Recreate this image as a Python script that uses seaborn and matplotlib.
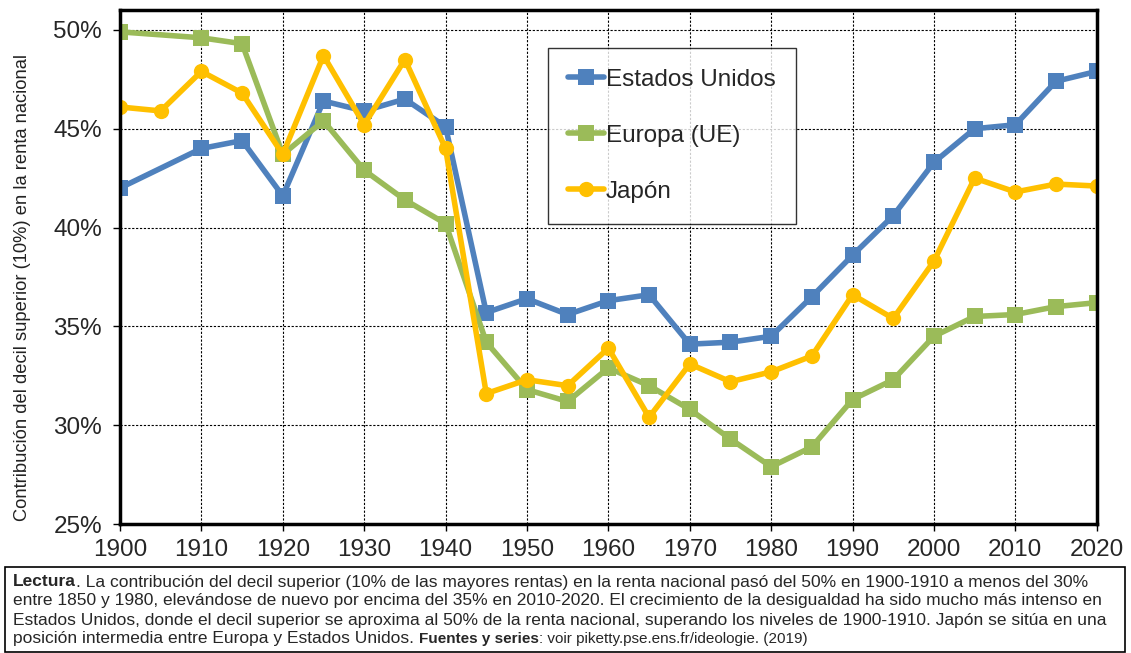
import pandas as pd
import seaborn as sns
import matplotlib.pyplot as plt

# valores (% de la renta nacional del decil superior)
years_us = [1900, 1910, 1915, 1920, 1925, 1930, 1935, 1940, 1945, 1950, 1955, 1960, 1965,
            1970, 1975, 1980, 1985, 1990, 1995, 2000, 2005, 2010, 2015, 2020]
us = [42.0, 44.0, 44.4, 41.6, 46.4, 45.9, 46.5, 45.1, 35.7, 36.4, 35.6, 36.3, 36.6,
      34.1, 34.2, 34.5, 36.5, 38.6, 40.6, 43.3, 45.0, 45.2, 47.4, 47.9]

years_eu = years_us
eu = [49.9, 49.6, 49.3, 43.7, 45.4, 42.9, 41.4, 40.2, 34.2, 31.8, 31.2, 32.9, 32.0,
      30.8, 29.3, 27.9, 28.9, 31.3, 32.3, 34.5, 35.5, 35.6, 36.0, 36.2]

years_jp = [1900, 1905, 1910, 1915, 1920, 1925, 1930, 1935, 1940, 1945, 1950, 1955, 1960,
            1965, 1970, 1975, 1980, 1985, 1990, 1995, 2000, 2005, 2010, 2015, 2020]
jp = [46.1, 45.9, 47.9, 46.8, 43.7, 48.7, 45.2, 48.5, 44.0, 31.6, 32.3, 32.0, 33.9,
      30.4, 33.1, 32.2, 32.7, 33.5, 36.6, 35.4, 38.3, 42.5, 41.8, 42.2, 42.1]

series = ["Estados Unidos", "Europa (UE)", "Japón"]
yticks = [25, 30, 35, 40, 45, 50]
xticks = list(range(1900, 2021, 10))

df = pd.concat([
    pd.DataFrame({"year": years_us, "value": us, "pais": series[0]}),
    pd.DataFrame({"year": years_eu, "value": eu, "pais": series[1]}),
    pd.DataFrame({"year": years_jp, "value": jp, "pais": series[2]}),
])

sns.set_style("white")
plt.rcParams["font.family"] = ["Liberation Sans", "DejaVu Sans"]

fig = plt.figure(figsize=(11.31, 6.53), dpi=100)
ax = fig.add_axes([0.1061, 0.1975, 0.8636, 0.787])

palette = {series[0]: "#4F81BD", series[1]: "#9BBB59", series[2]: "#FFC000"}
markers = {series[0]: "s", series[1]: "s", series[2]: "o"}
sns.lineplot(data=df, x="year", y="value", hue="pais", style="pais",
             hue_order=series, style_order=series, palette=palette,
             markers=markers, dashes=False, linewidth=4, markersize=11,
             markeredgewidth=0, ax=ax)

ax.set_xlim(1900, 2020)
ax.set_ylim(25, 51.0)
ax.set_xticks(xticks)
ax.set_yticks(yticks)
ax.set_yticklabels([f"{v}%" for v in yticks])
ax.tick_params(axis="both", labelsize=17.5, direction="out", length=5,
               width=1, color="black", bottom=True, left=True)
ax.tick_params(axis="y", pad=8)
ax.tick_params(axis="x", pad=6)
ax.grid(True, color="black", linestyle=(0, (2, 1.5)), linewidth=0.8)
ax.set_axisbelow(True)
for sp in ax.spines.values():
    sp.set_color("black")
    sp.set_linewidth(2.5)

ax.set_xlabel("")
ax.set_ylabel("Contribución del decil superior (10%) en la renta nacional",
              fontsize=13.2, color="#222222")
ax.yaxis.set_label_coords(-0.091, 0.46)

handles, labels = ax.get_legend_handles_labels()
leg = ax.legend(handles, labels, loc="upper left", bbox_to_anchor=(0.438, 0.926),
                fontsize=17.5, frameon=True, fancybox=False, edgecolor="black",
                labelspacing=1.4, handlelength=1.45, handletextpad=0.08,
                borderpad=0.85, borderaxespad=0)
leg.get_frame().set_linewidth(1.0)

# caja de texto inferior
box = plt.Rectangle((5 / 1131, 1 - 652 / 653), 1120 / 1131, 85 / 653,
                    transform=fig.transFigure, fill=False, edgecolor="black", linewidth=1.2)
fig.patches.append(box)

cap_font = ["Liberation Sans Narrow", "Liberation Sans", "DejaVu Sans"]
cap_size = 12.5
x0 = 13 / 1131
line_y = [582, 601, 620, 639]

t = fig.text(x0, 1 - line_y[0] / 653, "Lectura", fontsize=cap_size, family=cap_font,
             fontweight="bold", va="center")
ax.annotate(". La contribución del decil superior (10% de las mayores rentas) en la renta nacional "
            "pasó del 50% en 1900-1910 a menos del 30%", xy=(1, 0.5), xycoords=t,
            va="center", fontsize=cap_size, family=cap_font, annotation_clip=False)
fig.text(x0, 1 - line_y[1] / 653,
         "entre 1850 y 1980, elevándose de nuevo por encima del 35% en 2010-2020. El crecimiento de la "
         "desigualdad ha sido mucho más intenso en", fontsize=cap_size, family=cap_font, va="center")
fig.text(x0, 1 - line_y[2] / 653,
         "Estados Unidos, donde el decil superior se aproxima al 50% de la renta nacional, superando los "
         "niveles de 1900-1910. Japón se sitúa en una", fontsize=cap_size, family=cap_font, va="center")
t4 = fig.text(x0, 1 - line_y[3] / 653, "posición intermedia entre Europa y Estados Unidos. ",
              fontsize=cap_size, family=cap_font, va="center")
t5 = ax.annotate("Fuentes y series", xy=(1, 0.5), xycoords=t4, va="center",
                 fontsize=cap_size - 1.5, family=cap_font, fontweight="bold", annotation_clip=False)
ax.annotate(": voir piketty.pse.ens.fr/ideologie. (2019)", xy=(1, 0.5), xycoords=t5, va="center",
            fontsize=cap_size - 1.5, family=cap_font, annotation_clip=False)

plt.savefig("out.png", dpi=100)
plt.close()
